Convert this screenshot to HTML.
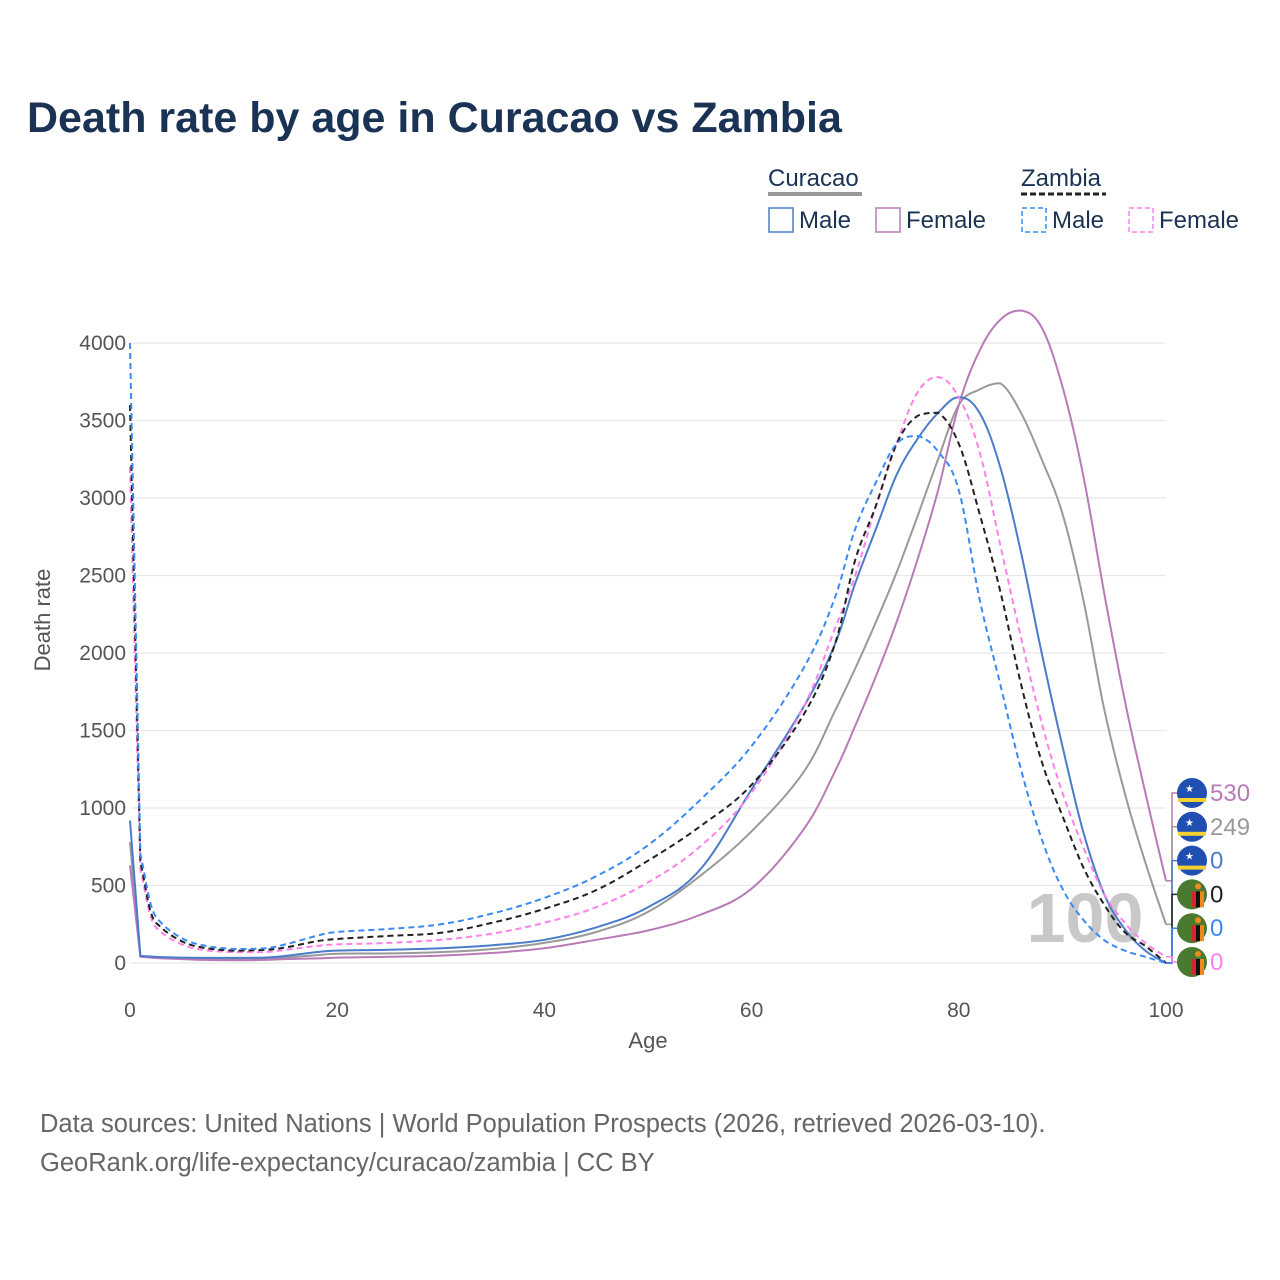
<!DOCTYPE html>
<html><head><meta charset="utf-8"><style>
body{margin:0;background:#fff;font-family:"Liberation Sans",sans-serif}
#root{position:relative;width:1280px;height:1280px;overflow:hidden}
</style></head><body><div id="root">
<svg id="svg" width="1280" height="1280" xmlns="http://www.w3.org/2000/svg" font-family="Liberation Sans, sans-serif">
<text x="27" y="132" font-size="43" font-weight="bold" fill="#1a3355">Death rate by age in Curacao vs Zambia</text>
<g>
<text x="768" y="186" font-size="24" fill="#1a3355">Curacao</text>
<line x1="768" y1="194" x2="862" y2="194" stroke="#999" stroke-width="4"/>
<text x="1021" y="186" font-size="24" fill="#1a3355">Zambia</text>
<line x1="1021" y1="194" x2="1106" y2="194" stroke="#222" stroke-width="3" stroke-dasharray="6,3"/>
<rect x="769" y="208" width="24" height="24" fill="none" stroke="#4a7cc9" stroke-width="1.5"/>
<text x="799" y="228" font-size="24" fill="#1a3355">Male</text>
<rect x="876" y="208" width="24" height="24" fill="none" stroke="#b87ab8" stroke-width="1.5"/>
<text x="906" y="228" font-size="24" fill="#1a3355">Female</text>
<rect x="1022" y="208" width="24" height="24" fill="none" stroke="#3a8af5" stroke-width="1.5" stroke-dasharray="5,3"/>
<text x="1052" y="228" font-size="24" fill="#1a3355">Male</text>
<rect x="1129" y="208" width="24" height="24" fill="none" stroke="#ff80e8" stroke-width="1.5" stroke-dasharray="5,3"/>
<text x="1159" y="228" font-size="24" fill="#1a3355">Female</text>
</g>
<g id="grid"></g>
<text x="1085" y="942" font-size="70" font-weight="bold" fill="#c8c8c8" text-anchor="middle">100</text>
<g id="series"></g>
<g id="endlabels"></g>
<text x="648" y="1048" font-size="22" fill="#555" text-anchor="middle">Age</text>
<text transform="translate(50,620) rotate(-90)" font-size="22" fill="#555" text-anchor="middle">Death rate</text>
<text x="40" y="1132" font-size="25.5" fill="#666">Data sources: United Nations | World Population Prospects (2026, retrieved 2026-03-10).</text>
<text x="40" y="1171" font-size="25.5" fill="#666">GeoRank.org/life-expectancy/curacao/zambia | CC BY</text>
</svg>
<script>
const ages=[0,1,2,3,5,7,10,13,15,18,20,25,30,35,40,45,50,55,60,65,68,70,72,74,76,78,80,82,84,86,88,90,92,94,96,98,100];
const curacaoTotal=[780,42,38,33,28,25,22,25,35,50,60,62,70,90,130,200,330,560,850,1230,1620,1900,2200,2520,2880,3250,3600,3700,3740,3550,3250,2900,2350,1650,1100,650,249];
const curacaoMale=[920,45,42,38,35,33,33,35,45,70,80,85,95,115,150,230,360,600,1120,1650,2050,2450,2800,3150,3380,3550,3650,3550,3200,2650,2000,1400,850,450,220,80,0];
const curacaoFemale=[630,40,35,30,25,20,18,20,25,30,35,40,48,65,95,150,210,310,480,860,1230,1530,1850,2200,2600,3050,3600,3950,4150,4210,4100,3720,3150,2400,1700,1100,530];
const zambiaTotal=[3600,650,330,230,140,100,80,85,100,140,155,175,195,260,350,470,660,880,1150,1600,2050,2600,2950,3350,3530,3550,3350,2900,2400,1800,1300,950,620,380,200,110,0];
const zambiaMale=[4000,700,380,260,160,115,90,95,120,175,200,220,250,320,420,560,760,1050,1400,1900,2350,2800,3100,3350,3400,3300,3050,2350,1800,1250,800,480,280,150,80,40,0];
const zambiaFemale=[3200,600,300,200,120,85,70,70,85,110,120,130,150,190,260,360,520,750,1100,1650,2150,2500,2950,3350,3680,3780,3650,3300,2700,2100,1550,1100,750,450,260,130,40];
const yTicks=[0,500,1000,1500,2000,2500,3000,3500,4000];
const xTicks=[0,20,40,60,80,100];
const NS="http://www.w3.org/2000/svg";
const X=a=>130+a*10.36, Y=v=>963-v*0.155;
const grid=document.getElementById('grid');
function mk(tag,attrs,parent){const e=document.createElementNS(NS,tag);for(const k in attrs)e.setAttribute(k,attrs[k]);parent.appendChild(e);return e;}
yTicks.forEach(t=>{
 const l=mk('line',{x1:130,x2:1166,y1:Y(t),y2:Y(t),stroke:'#e8e8e8','stroke-width':1.2},grid);
 
 
 const tx=mk('text',{x:126,y:Y(t)+7,'font-size':21,fill:'#555','text-anchor':'end'},grid);
 tx.textContent=t;
 
 
});
xTicks.forEach(t=>{
 const tx=mk('text',{x:X(t),y:1017,'font-size':21,fill:'#555','text-anchor':'middle'},grid);
 tx.textContent=t;
 
 
});
function smoothPath(pts){
 let d='M'+pts[0][0].toFixed(1)+','+pts[0][1].toFixed(1);
 for(let i=0;i<pts.length-1;i++){
  const p0=pts[i-1]||pts[i],p1=pts[i],p2=pts[i+1],p3=pts[i+2]||p2;
  if(i===0){d+='L'+p2[0].toFixed(1)+','+p2[1].toFixed(1);continue;}
  const t=0.18;
  let c1y=p1[1]+(p2[1]-p0[1])*t, c2y=p2[1]-(p3[1]-p1[1])*t;
  const lo=Math.min(p1[1],p2[1]),hi=Math.max(p1[1],p2[1]);
  const m=(hi-lo)<20?0:6;
  c1y=Math.max(lo-m,Math.min(hi+m,c1y));c2y=Math.max(lo-m,Math.min(hi+m,c2y));
  if(i===1){c1y=p1[1]+(p2[1]-p1[1])*0.3;}
  const c1x=p1[0]+(p2[0]-p0[0])*t, c2x=p2[0]-(p3[0]-p1[0])*t;
  d+='C'+c1x.toFixed(1)+','+c1y.toFixed(1)+' '+c2x.toFixed(1)+','+c2y.toFixed(1)+' '+p2[0].toFixed(1)+','+p2[1].toFixed(1);
 }
 return d;
}
const series=[
 ['curacao-total-line',curacaoTotal,'#999',''],
 ['curacao-female-line',curacaoFemale,'#b87ab8',''],
 ['curacao-male-line',curacaoMale,'#4a7cc9',''],
 ['zambia-female-line',zambiaFemale,'#ff80e8','6,4'],
 ['zambia-total-line',zambiaTotal,'#222','6,4'],
 ['zambia-male-line',zambiaMale,'#3a8af5','6,4']];
const sg=document.getElementById('series');
series.forEach(s=>{
 const pts=ages.map((a,i)=>[X(a),Y(s[1][i])]);
 const p=mk('path',{d:smoothPath(pts),fill:'none',stroke:s[2],'stroke-width':2,'stroke-dasharray':s[3],'stroke-linejoin':'round'},sg);
 
 
});
const endLabels=[['530','#b87ab8','c',curacaoFemale],['249','#999','c',curacaoTotal],['0','#4a7cc9','c',curacaoMale],['0','#222','z',zambiaTotal],['0','#3a8af5','z',zambiaMale],['0','#ff80e8','z',zambiaFemale]];
const eg=document.getElementById('endlabels');
endLabels.forEach((e,i)=>{
 const cy=793+i*33.8;
 const vy=Y(e[3][e[3].length-1]);
 const br=mk('path',{d:`M1166,${vy}L1172,${vy}L1172,${cy}L1178,${cy}`,fill:'none',stroke:e[1],'stroke-width':1.5},eg);
 
 
 const g=mk('g',{},eg);
 
 
 if(e[2]=='c'){
  mk('circle',{cx:1192,cy:cy,r:15,fill:'#1f4fb0'},g);
  mk('rect',{x:1178,y:cy+5,width:28,height:4,fill:'#f5d130'},g);
  mk('text',{x:1185,y:cy-1,'font-size':10,fill:'#fff'},g).textContent='★';
 } else {
  mk('circle',{cx:1192,cy:cy,r:15,fill:'#4a7a30'},g);
  mk('rect',{x:1192,y:cy-3,width:4,height:16,fill:'#d8252a'},g);
  mk('rect',{x:1196,y:cy-3,width:4,height:16,fill:'#111'},g);
  mk('rect',{x:1200,y:cy-3,width:4,height:16,fill:'#f08a1c'},g);
  mk('circle',{cx:1198,cy:cy-8,r:3,fill:'#f08a1c'},g);
 }
 const t=mk('text',{x:1210,y:cy+8,'font-size':24,fill:e[1]},eg);
 t.textContent=e[0];
 
 
});
</script>
</div></body></html>
